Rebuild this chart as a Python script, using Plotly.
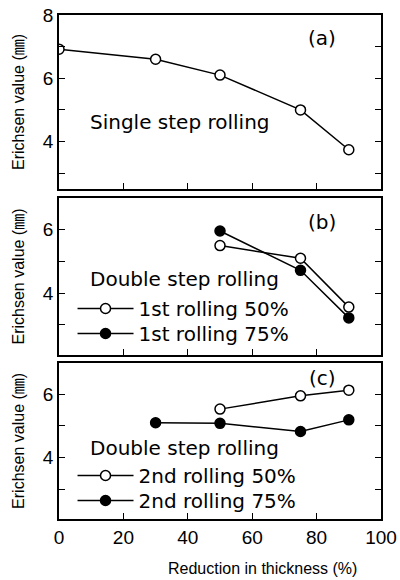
import plotly.graph_objects as go
from plotly.subplots import make_subplots

# Panel (a): single step rolling
a_x = [0, 30, 50, 75, 90]
a_y = [6.92, 6.6, 6.1, 5.0, 3.74]

# Panel (b): double step rolling, 1st rolling
b_x = [50, 75, 90]
b_50 = [5.5, 5.1, 3.56]
b_75 = [5.96, 4.72, 3.22]

# Panel (c): double step rolling, 2nd rolling
c50_x = [50, 75, 90]
c_50 = [5.53, 5.95, 6.13]
c75_x = [30, 50, 75, 90]
c_75 = [5.1, 5.08, 4.82, 5.19]

x_ticks = [0, 20, 40, 60, 80, 100]
y_ticks_a = [3, 4, 5, 6, 7, 8]
y_ticks_bc = [3, 4, 5, 6, 7]

def lab(v):
    return "" if v % 2 else str(v)

fig = make_subplots(rows=3, cols=1)

LW = 1.5
MS = 10
open_m = dict(symbol="circle", size=MS, color="white", line=dict(color="black", width=LW))
fill_m = dict(symbol="circle", size=MS, color="black", line=dict(color="black", width=LW))

fig.add_trace(go.Scatter(x=a_x, y=a_y, mode="lines+markers", line=dict(color="black", width=LW),
                         marker=open_m, showlegend=False), row=1, col=1)
fig.add_trace(go.Scatter(x=b_x, y=b_50, mode="lines+markers", name="1st rolling 50%",
                         line=dict(color="black", width=LW), marker=open_m, legend="legend"), row=2, col=1)
fig.add_trace(go.Scatter(x=b_x, y=b_75, mode="lines+markers", name="1st rolling 75%",
                         line=dict(color="black", width=LW), marker=fill_m, legend="legend2"), row=2, col=1)
fig.add_trace(go.Scatter(x=c50_x, y=c_50, mode="lines+markers", name="2nd rolling 50%",
                         line=dict(color="black", width=LW), marker=open_m, legend="legend3"), row=3, col=1)
fig.add_trace(go.Scatter(x=c75_x, y=c_75, mode="lines+markers", name="2nd rolling 75%",
                         line=dict(color="black", width=LW), marker=fill_m, legend="legend4"), row=3, col=1)

tick_font = dict(family="Liberation Sans, Arial", size=19, color="black")
title_font = dict(family="Liberation Sans, Arial, Noto Sans CJK JP", size=16, color="black")
text_font = dict(family="DejaVu Sans", size=20, color="black")

domains = [[0.6548, 1.0], [0.3254, 0.6369], [0.0, 0.3101]]
ranges = [[2.5, 8], [2.05, 7], [2.05, 7]]
yt = [y_ticks_a, y_ticks_bc, y_ticks_bc]

for i in range(3):
    xa = "xaxis" if i == 0 else f"xaxis{i+1}"
    ya = "yaxis" if i == 0 else f"yaxis{i+1}"
    fig.layout[xa].update(range=[0, 100], domain=[0, 1], tickvals=x_ticks, ticks="inside", ticklen=6,
                          tickwidth=1.2, tickcolor="black", showline=True, linecolor="black", linewidth=LW,
                          mirror=True, showgrid=False, zeroline=False, showticklabels=(i == 2),
                          tickfont=tick_font, automargin=False)
    fig.layout[ya].update(range=ranges[i], domain=domains[i], tickvals=yt[i], ticktext=[lab(v) for v in yt[i]],
                          ticks="inside", ticklen=6, tickwidth=1.2, tickcolor="black", showline=True,
                          linecolor="black", linewidth=LW, mirror="allticks", showgrid=False, zeroline=False,
                          tickfont=tick_font, automargin=False,
                          title=dict(text="Erichsen value (㎜)", font=title_font, standoff=14))

fig.add_annotation(text="Single step rolling", x=9, y=4.63, xref="x", yref="y", xanchor="left",
                   showarrow=False, font=text_font)
fig.add_annotation(text="Double step rolling", x=9, y=4.45, xref="x2", yref="y2", xanchor="left",
                   showarrow=False, font=text_font)
fig.add_annotation(text="Double step rolling", x=9, y=4.29, xref="x3", yref="y3", xanchor="left",
                   showarrow=False, font=text_font)
fig.add_annotation(text="(a)", x=81.7, y=7.28, xref="x", yref="y", showarrow=False, font=text_font)
fig.add_annotation(text="(b)", x=81.7, y=6.25, xref="x2", yref="y2", showarrow=False, font=text_font)
fig.add_annotation(text="(c)", x=81.7, y=6.52, xref="x3", yref="y3", showarrow=False, font=text_font)
fig.add_annotation(text="Reduction in thickness (%)", x=(262 - 59) / 322, y=-49 / 504, xref="paper",
                   yref="paper", yanchor="middle", showarrow=False, font=title_font)

leg_common = dict(bgcolor="rgba(0,0,0,0)", borderwidth=0, font=text_font, xanchor="left", yanchor="top",
                  itemwidth=56, tracegroupgap=0)
fig.update_layout(
    legend=dict(x=0.042, y=0.4563, **leg_common),
    legend2=dict(x=0.042, y=0.4067, **leg_common),
    legend3=dict(x=0.042, y=0.125, **leg_common),
    legend4=dict(x=0.042, y=0.0754, **leg_common),
)

fig.update_layout(width=400, height=580, margin=dict(l=59, r=19, t=15, b=61, autoexpand=False),
                  paper_bgcolor="white", plot_bgcolor="white", showlegend=True)

fig.write_html("out.html", config={"displayModeBar": False},
               post_script="document.body.style.margin='0';document.body.style.padding='0';")
